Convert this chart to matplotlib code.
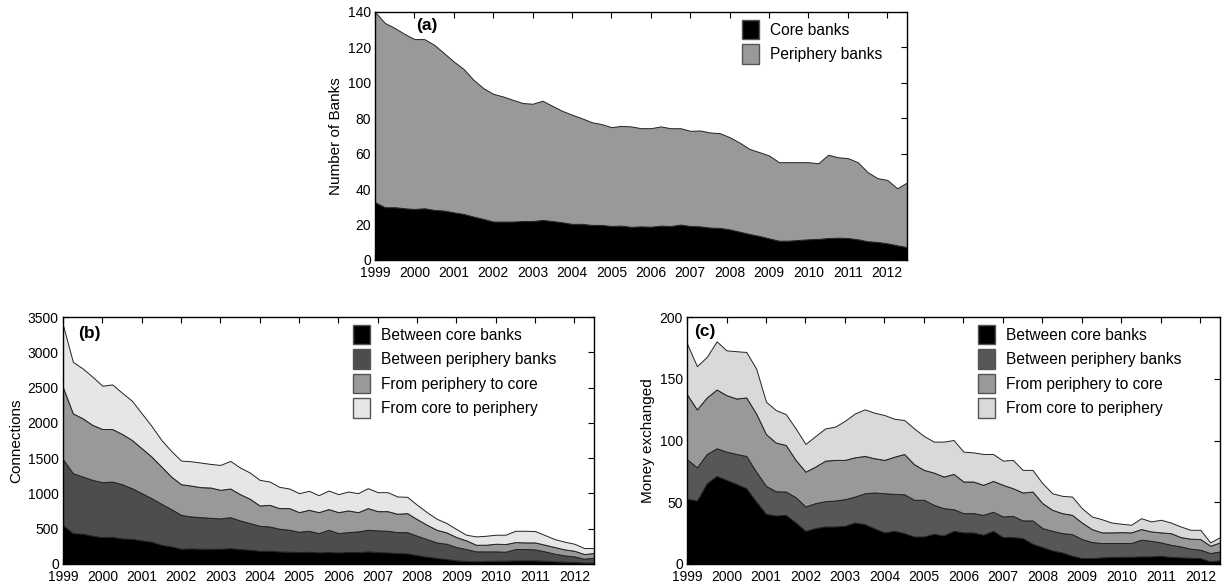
import numpy as np
import matplotlib
matplotlib.use("Agg")
import matplotlib.pyplot as plt
from matplotlib.patches import Patch

plt.rcParams['font.family'] = ['Liberation Sans', 'DejaVu Sans']

# quarterly data, 1999Q1 .. 2012Q3
quarters = 1999 + np.arange(55) * 0.25
years = list(range(1999, 2013))

# (a) number of banks
core_banks = [32.6, 29.8, 29.8, 29.2, 28.8, 29.2, 28.3, 27.9, 26.9, 26, 24.5, 23.2,
              21.7, 21.7, 21.7, 22, 22, 22.6, 22, 21.3, 20.4, 20.4, 19.8, 19.8,
              19.2, 19.4, 18.7, 19, 18.8, 19.4, 19.2, 20, 19.2, 19, 18.3, 18.1,
              17.3, 16, 14.7, 13.6, 12.2, 10.9, 10.9, 11.3, 11.7, 11.9, 12.4, 12.6,
              12.4, 11.7, 10.6, 10.2, 9.4, 8.3, 7.3]
periphery_banks = [107.4, 104, 101.2, 98.4, 95.9, 95.5, 93.2, 88.9, 85.1, 81.8, 77.2, 73.8,
                   72.1, 70.6, 68.7, 66.6, 66.2, 67.3, 65, 62.9, 61.6, 59.6, 58, 56.9,
                   55.8, 56.3, 56.7, 55.4, 55.6, 56, 55.2, 54.4, 53.7, 54.1, 53.7, 53.5,
                   52, 50.3, 48, 47.3, 46.8, 44.3, 44.3, 43.9, 43.5, 42.7, 47, 45.4,
                   45.1, 43.5, 39, 36, 35.8, 32.2, 36.4]

# (b) connections
conn_core = [547, 438, 429, 401, 382, 386, 363, 358, 335, 316, 273, 250,
             217, 221, 217, 217, 217, 226, 212, 203, 188, 188, 179, 174,
             170, 174, 165, 170, 165, 170, 170, 179, 170, 165, 156, 151,
             127, 104, 85, 71, 52, 42, 38, 42, 47, 47, 52, 52,
             52, 47, 38, 33, 28, 19, 19]
conn_periph = [937, 849, 810, 791, 777, 783, 768, 716, 669, 617, 580, 528,
               480, 453, 447, 438, 429, 438, 405, 377, 354, 344, 321, 311,
               287, 297, 273, 315, 273, 282, 292, 306, 306, 306, 296, 301,
               274, 249, 221, 216, 188, 170, 141, 137, 132, 127, 160, 160,
               155, 132, 108, 89, 80, 56, 71]
conn_p2c = [1018, 848, 825, 778, 754, 744, 712, 684, 636, 589, 528, 461,
            434, 438, 425, 429, 405, 406, 373, 344, 287, 307, 292, 307,
            278, 297, 297, 293, 297, 307, 273, 307, 273, 278, 260, 269,
            235, 203, 179, 161, 142, 123, 94, 94, 108, 109, 99, 94,
            99, 94, 94, 85, 80, 66, 66]
conn_c2p = [881, 730, 707, 683, 613, 632, 584, 556, 495, 434, 377, 363,
            335, 344, 348, 334, 353, 391, 377, 372, 363, 330, 301, 278,
            269, 269, 240, 263, 255, 268, 269, 282, 269, 269, 245, 231,
            203, 179, 156, 132, 113, 80, 118, 127, 128, 132, 160, 165,
            161, 137, 113, 109, 99, 85, 70]

# (c) money exchanged
money_core = [52.8, 51.4, 65.4, 71.3, 68.1, 64.9, 61.4, 50.6, 40.6, 39.3, 39.8, 33.6,
              26.9, 29.1, 30.4, 30.4, 31, 33.6, 32.3, 28.8, 25.6, 26.9, 25, 22.3,
              22.3, 24.5, 23.1, 26.9, 25.6, 25.6, 23.7, 26.9, 21.8, 21.8, 21, 16.4,
              13.7, 11, 9.4, 6.7, 4.8, 4.8, 5.4, 5.7, 5.9, 5.9, 6.2, 6.2,
              6.7, 5.7, 5.4, 5.1, 4.8, 2.2, 3]
money_periph = [32, 26.9, 23.7, 22.4, 22.9, 24.2, 26.1, 24.2, 22.7, 19.6, 18.9, 20.5,
                19.7, 20.2, 20.5, 21, 21.5, 21, 25, 29.1, 31.7, 29.9, 31.5, 29.7,
                29.7, 23.4, 22.1, 17.5, 15.6, 15.6, 16.1, 15.4, 16.7, 17.2, 14.3, 18.9,
                15.4, 15.9, 15.6, 17.5, 15.4, 13, 11.6, 11.3, 11.1, 11.1, 13.5, 12.6,
                10.8, 9.9, 8.9, 7.3, 6.8, 6.7, 7.2]
money_p2c = [52.5, 46.9, 45.8, 47.6, 45.7, 44.9, 47.4, 47.1, 41.9, 39.4, 37.7, 30.2,
             28.2, 29.6, 32.8, 32.9, 31.8, 31.8, 30.2, 27.7, 27, 30.1, 32.6, 28.8,
             24.2, 26.1, 25.6, 28.6, 25.6, 25.6, 24.3, 25, 25.6, 22.4, 22.6, 23.4,
             20.2, 17, 16.2, 15.6, 13.4, 10.5, 8.6, 8.6, 8.8, 8.6, 8.6, 7.6,
             8.1, 9.4, 7.5, 8.1, 8.6, 5.9, 7.3]
money_c2p = [41.2, 35, 32.8, 39, 36.3, 38.3, 36.8, 36.4, 26.2, 26.3, 25, 25.5,
             22.4, 24.7, 26.1, 26.9, 31.7, 35.5, 37.7, 36.9, 36.3, 30.7, 27.5, 29,
             27.4, 25.1, 28.3, 27.4, 24.2, 23.6, 25, 21.8, 19.6, 22.9, 18.3, 17.5,
             16.1, 13.4, 14, 14.8, 11.6, 10.2, 10.7, 8, 6.8, 6.2, 8.8, 8.1,
             10.2, 8.6, 8.6, 7.2, 7.5, 2.7, 4.3]

labels_a = ['Core banks', 'Periphery banks']
labels_bc = ['Between core banks', 'Between periphery banks',
             'From periphery to core', 'From core to periphery']
colors_a = ['#000000', '#999999']
colors_b = ['#000000', '#4d4d4d', '#999999', '#e6e6e6']
colors_c = ['#000000', '#575757', '#999999', '#d9d9d9']


def setup(ax, ymax, ystep, ylabel, tag, tagx, tagy):
    ax.set_xlim(1999, 2012.5)
    ax.set_ylim(0, ymax)
    ax.set_xticks(years)
    ax.set_yticks(np.arange(0, ymax + 1, ystep))
    ax.tick_params(direction='in', top=True, right=True, length=4, labelsize=10)
    ax.tick_params(axis='x', pad=4.5)
    ax.tick_params(axis='y', pad=3)
    ax.set_axisbelow(True)
    ax.set_ylabel(ylabel, fontsize=11, labelpad=3)
    for s in ax.spines.values():
        s.set_linewidth(1.0)
        s.set_zorder(5)
    ax.text(tagx, tagy, tag, transform=ax.transAxes, fontsize=12.5,
            fontweight='bold', va='center', ha='left')


def add_legend(ax, labels, colors, x, y):
    handles = [Patch(facecolor=c, edgecolor='#555555', linewidth=1.0) for c in colors]
    ax.legend(handles, labels, loc='upper left', bbox_to_anchor=(x, y),
              frameon=False, fontsize=11.2, handlelength=1.1, handleheight=1.55,
              handletextpad=0.7, labelspacing=0.32, borderpad=0, borderaxespad=0)


fig = plt.figure(figsize=(12.24, 5.85), dpi=100)

ax_a = fig.add_axes([0.3064, 0.5556, 0.4346, 0.4239])
ax_a.stackplot(quarters, core_banks, periphery_banks, colors=colors_a,
               edgecolor='#222222', linewidth=0.7)
setup(ax_a, 140, 20, 'Number of Banks', '(a)', 0.077, 0.945)
add_legend(ax_a, labels_a, colors_a, 0.69, 0.968)

ax_b = fig.add_axes([0.0515, 0.0359, 0.4338, 0.4222])
ax_b.stackplot(quarters, conn_core, conn_periph, conn_p2c, conn_c2p,
               colors=colors_b, edgecolor='#222222', linewidth=0.7)
setup(ax_b, 3500, 500, 'Connections', '(b)', 0.028, 0.935)
add_legend(ax_b, labels_bc, colors_b, 0.546, 0.968)

ax_c = fig.add_axes([0.5613, 0.0359, 0.4355, 0.4222])
ax_c.stackplot(quarters, money_core, money_periph, money_p2c, money_c2p,
               colors=colors_c, edgecolor='#222222', linewidth=0.7)
setup(ax_c, 200, 50, 'Money exchanged', '(c)', 0.013, 0.943)
add_legend(ax_c, labels_bc, colors_c, 0.545, 0.968)

fig.savefig('out.png', dpi=100)
